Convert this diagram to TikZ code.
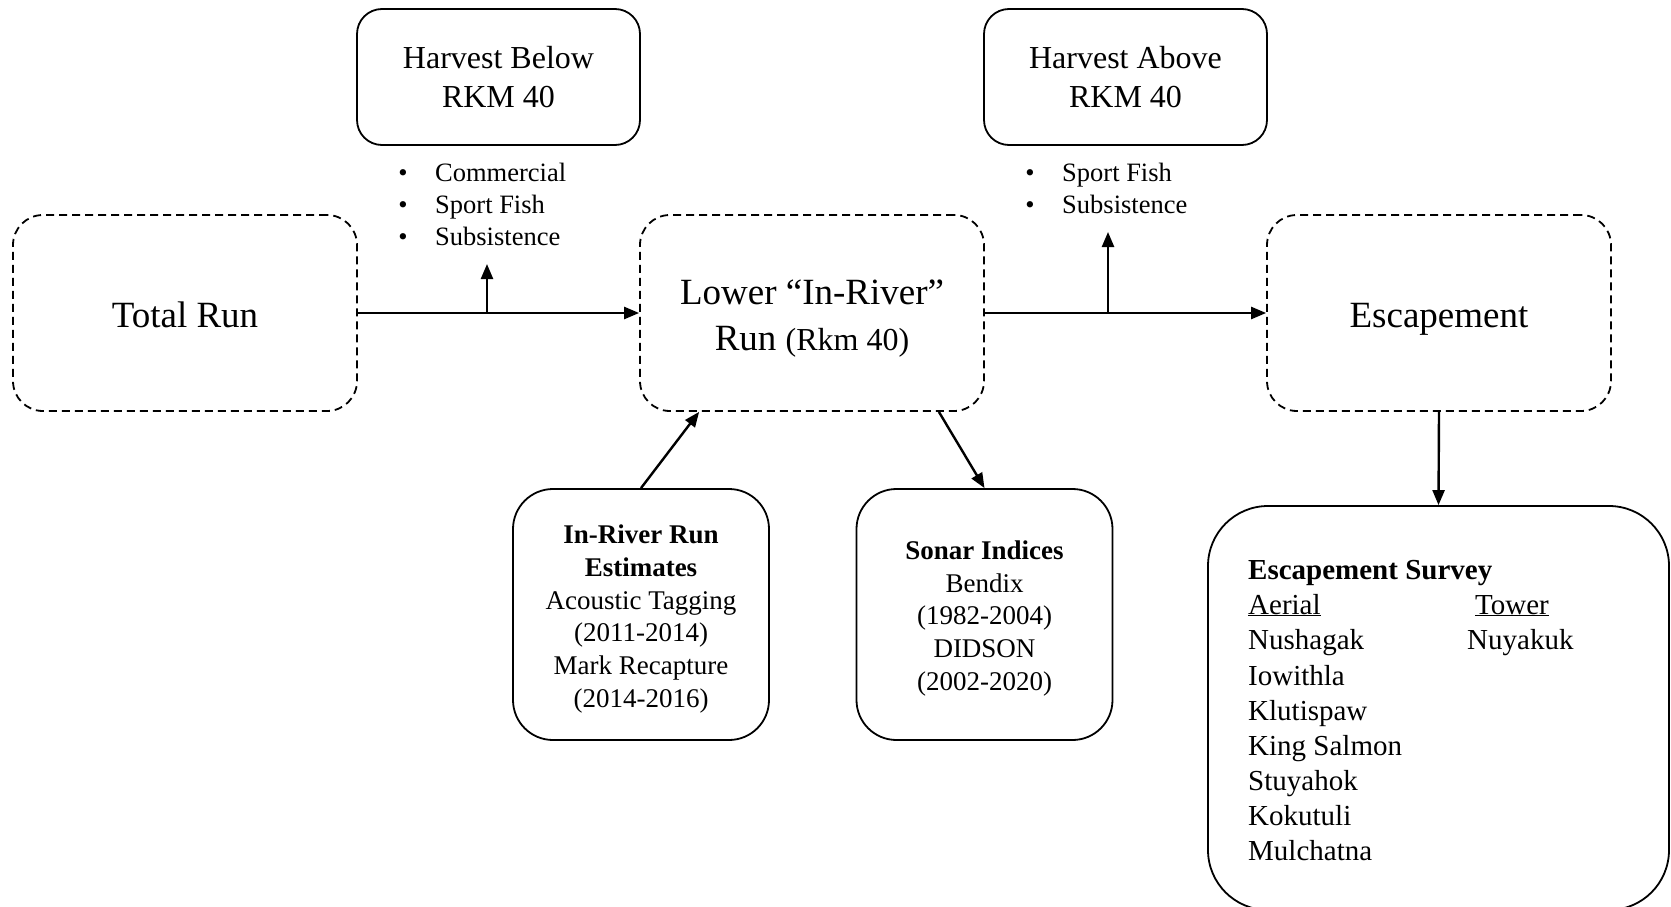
\documentclass[tikz,border=0pt]{standalone}
\usepackage{fontspec}
\setmainfont{Liberation Serif}
\usetikzlibrary{arrows.meta}
\tikzset{
  dbox/.style={draw, line width=1.8pt, dash pattern=on 8pt off 5pt, rounded corners=30pt,
    minimum width=344pt, minimum height=196pt, inner sep=0pt},
  bigtxt/.style={anchor=base, inner sep=0pt, font=\fontsize{37}{45}\selectfont},
  hbox/.style={draw, line width=1.8pt, rounded corners=25pt, minimum width=283pt,
    minimum height=136pt, inner sep=0pt, align=center, font=\fontsize{32}{38.5}\selectfont},
  mbox/.style={draw, line width=1.8pt, rounded corners=40pt, minimum width=256pt,
    minimum height=251pt, inner sep=0pt},
  mtxt/.style={inner sep=0pt, align=center, font=\fontsize{27}{32.8}\selectfont},
  sbox/.style={draw, line width=1.8pt, rounded corners=60pt, minimum width=461pt,
    minimum height=404pt, inner sep=0pt},
  bul/.style={anchor=base, inner sep=0pt, font=\fontsize{26.5}{32}\selectfont},
  btxt/.style={anchor=base west, inner sep=0pt, font=\fontsize{26.5}{32}\selectfont},
  stxt/.style={anchor=base west, inner sep=0pt, font=\fontsize{29}{35}\selectfont},
  arr/.style={line width=2.4pt, -{Triangle[length=15pt,width=12pt]}}
}
\begin{document}
\begin{tikzpicture}[x=1pt,y=-1pt]
\useasboundingbox (0,0) rectangle (1671,907);
\clip (0,0) rectangle (1671,907);
% main dashed boxes
\node[dbox] (total) at (185,313) {};
\node[bigtxt] (totaltxt) at (185,327) {Total Run};
\node[dbox] (lower) at (812,313) {};
\node[bigtxt] (lowertxt1) at (812,304) {Lower “In-River”};
\node[bigtxt] (lowertxt2) at (812,350) {Run {\fontsize{32}{38}\selectfont(Rkm 40)}};
\node[dbox] (esc) at (1439,313) {};
\node[bigtxt] (esctxt) at (1439,327) {Escapement};
% harvest boxes
\node[hbox] (hb) at (498.5,77) {Harvest Below\\RKM 40};
\node[hbox] (ha) at (1125.5,77) {Harvest Above\\RKM 40};
% bullet lists
\node[bul] (hbb1) at (403,181) {•};
\node[btxt] (hbt1) at (435,181) {Commercial};
\node[bul] (hbb2) at (403,213) {•};
\node[btxt] (hbt2) at (435,213) {Sport Fish};
\node[bul] (hbb3) at (403,245) {•};
\node[btxt] (hbt3) at (435,245) {Subsistence};
\node[bul] (hab1) at (1030,181) {•};
\node[btxt] (hat1) at (1062,181) {Sport Fish};
\node[bul] (hab2) at (1030,213) {•};
\node[btxt] (hat2) at (1062,213) {Subsistence};
% lower boxes
\node[mbox] (irr) at (641,614.5) {};
\node[mtxt] (irrtxt) at ([yshift=-4.5pt]irr.center) {\textbf{In-River Run}\\\textbf{Estimates}\\Acoustic Tagging\\(2011-2014)\\Mark Recapture\\(2014-2016)};
\node[mbox] (sonar) at (984.5,614.5) {};
\node[mtxt] (sonartxt) at ([yshift=-4pt]sonar.center) {\textbf{Sonar Indices}\\Bendix\\(1982-2004)\\DIDSON\\(2002-2020)};
\node[sbox] (survey) at (1438.5,708) {};
% survey text
\node[stxt] (s0) at (1248,579) {\textbf{Escapement Survey}};
\node[stxt] (s1) at (1248,614) {\underline{Aerial}};
\node[stxt] (t1) at (1475,614) {\underline{Tower}};
\node[stxt] (s2) at (1248,649) {Nushagak};
\node[stxt] (t2) at (1467,649) {Nuyakuk};
\node[stxt] (s3) at (1248,685) {Iowithla};
\node[stxt] (s4) at (1248,720) {Klutispaw};
\node[stxt] (s5) at (1248,755) {King Salmon};
\node[stxt] (s6) at (1248,790) {Stuyahok};
\node[stxt] (s7) at (1248,825) {Kokutuli};
\node[stxt] (s8) at (1248,860) {Mulchatna};
% connectors
\draw[arr] (total.east) -- (lower.west);
\coordinate (hbfoot) at (487,313);
\coordinate (hbtip) at (487,264);
\draw[arr] (hbfoot) -- (hbtip);
\draw[arr] (lower.east) -- (esc.west);
\coordinate (hafoot) at (1108,313);
\coordinate (hatip) at (1108,232);
\draw[arr] (hafoot) -- (hatip);
\draw[arr] (irr.north) -- ([xshift=60pt]lower.south west);
\draw[arr] ([xshift=-46pt]lower.south east) -- (sonar.north);
\draw[arr] (esc.south) -- (survey.north);
\end{tikzpicture}
\end{document}
